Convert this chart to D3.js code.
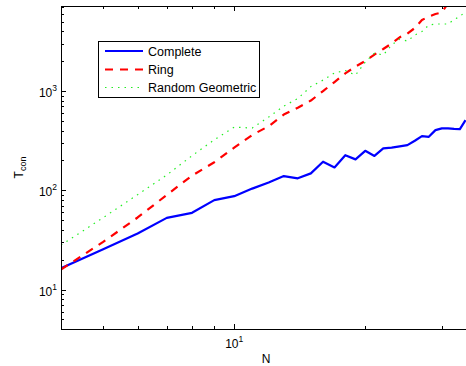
<!DOCTYPE html>
<html>
<head>
<meta charset="utf-8">
<script src="https://cdn.jsdelivr.net/npm/d3@7"></script>
<style>
  html, body { margin: 0; padding: 0; background: #fff; }
  svg { display: block; }
  text { font-family: "Liberation Sans", Arial, Helvetica, sans-serif; fill: #000; }
</style>
</head>
<body>
<svg id="chart" width="466" height="366"></svg>
<script>
// ---- data ----
const nComplete = [4,5,6,7,8,9,10,11,12,13,14,15,16,17,18,19,20,21,22,23,24,25,26,27,28,29,30,31,32,33,34];
const complete  = [16.4,25.5,36.7,52.7,59.3,79.6,87.3,104,120,139,132,148,194,170,226,205,250,222,264,269,277,285,316,352,346,404,421,420,415,413,510];
const nRing     = [4,5,6,7,8,9,10,11,12,13,14,15,16,17,18,19,20,21,22,23,24,25,26,27,28,29,30,31];
const ring      = [15.9,30.2,53.2,89.8,140.5,191.8,269,361,442,580,680,802,1000,1233,1509,1766,2008,2334,2652,3015,3481,3802,4319,5200,5640,5980,6190,7700];
const nRandom   = [4,5,6,7,8,9,10,11,12,13,14,15,16,17,18,19,20,21,22,23,24,25,26,27,28,29,30,31,32,33,34];
const randomGeo = [28.0,53.0,90.4,142.6,223,323,433,424,547,706,840,1110,1290,1520,1611,1449,1958,2415,2305,2910,3345,3190,3670,3985,4630,4740,4740,4740,5260,5640,6340];
const seriesNames = ["Complete", "Ring", "Random Geometric"];
const xDomain = [4, 35];
const yDomain = [4, 7200];
const xMajor = [10];
const xMinor = [5,6,7,8,9,20,30];
const yMajor = [10, 100, 1000];
const yMinor = [5,6,7,8,9,20,30,40,50,60,70,80,90,200,300,400,500,600,700,800,900,2000,3000,4000,5000,6000,7000];
const xLabel = "N";

// ---- layout ----
const L = 61, R = 471, T = 6, B = 329;
const svg = d3.select("#chart");
const x = d3.scaleLog().domain(xDomain).range([L, R]);
const y = d3.scaleLog().domain(yDomain).range([B, T]);

svg.append("defs").append("clipPath").attr("id", "plotclip")
  .append("rect").attr("x", L).attr("y", T).attr("width", R - L).attr("height", B - T);

// series
const styles = [
  {color: "#0000ff", width: 2.2, dash: null},
  {color: "#ff0000", width: 2.2, dash: "8,7"},
  {color: "#22ee22", width: 1.2, dash: "1.5,5"}
];
const data = [
  d3.zip(nComplete, complete),
  d3.zip(nRing, ring),
  d3.zip(nRandom, randomGeo)
];
const line = d3.line().x(d => x(d[0])).y(d => y(d[1]));
const g = svg.append("g").attr("clip-path", "url(#plotclip)");
data.forEach((d, i) => {
  g.append("path").datum(d).attr("d", line)
    .attr("fill", "none").attr("stroke", styles[i].color)
    .attr("stroke-width", styles[i].width)
    .attr("stroke-dasharray", styles[i].dash)
    .attr("stroke-linejoin", "round");
});

// axes frame
const ax = svg.append("g").attr("stroke", "#000").attr("stroke-width", 1).attr("fill", "none")
  .attr("shape-rendering", "crispEdges");
ax.append("line").attr("x1", L).attr("x2", R).attr("y1", B).attr("y2", B);
ax.append("line").attr("x1", L).attr("x2", R).attr("y1", T).attr("y2", T);
ax.append("line").attr("x1", L).attr("x2", L).attr("y1", T).attr("y2", B);
ax.append("line").attr("x1", R).attr("x2", R).attr("y1", T).attr("y2", B);

// ticks (inside)
const maj = 5, mnr = 3;
function xt(v, len) {
  const px = Math.round(x(v)) + 0.5;
  ax.append("line").attr("x1", px).attr("x2", px).attr("y1", B).attr("y2", B - len);
  ax.append("line").attr("x1", px).attr("x2", px).attr("y1", T).attr("y2", T + len);
}
function yt(v, len) {
  const py = Math.round(y(v)) + 0.5;
  ax.append("line").attr("x1", L).attr("x2", L + len).attr("y1", py).attr("y2", py);
  ax.append("line").attr("x1", R).attr("x2", R - len).attr("y1", py).attr("y2", py);
}
xMajor.forEach(v => xt(v, maj));
xMinor.forEach(v => xt(v, mnr));
yMajor.forEach(v => yt(v, maj));
yMinor.forEach(v => yt(v, mnr));

// tick labels
xMajor.forEach(v => {
  const t = svg.append("text").attr("x", x(v)).attr("y", B + 19)
    .attr("text-anchor", "middle").attr("font-size", 12);
  t.append("tspan").text("10");
  t.append("tspan").attr("dy", -6).attr("font-size", 8.5).text(Math.round(Math.log10(v)));
});
yMajor.forEach(v => {
  const t = svg.append("text").attr("x", L - 4).attr("y", y(v) + 6)
    .attr("text-anchor", "end").attr("font-size", 12);
  t.append("tspan").text("10");
  t.append("tspan").attr("dy", -6).attr("font-size", 8.5).text(Math.round(Math.log10(v)));
});

// axis labels
svg.append("text").attr("x", (L + R) / 2).attr("y", 363)
  .attr("text-anchor", "middle").attr("font-size", 12).text(xLabel);
const yl = svg.append("text").attr("transform", `translate(23,${(T + B) / 2}) rotate(-90)`)
  .attr("text-anchor", "middle").attr("font-size", 12);
yl.append("tspan").text("T");
yl.append("tspan").attr("dy", 3).attr("font-size", 9).text("con");

// legend
const lg = svg.append("g");
lg.append("rect").attr("x", 98.5).attr("y", 41.5).attr("width", 161).attr("height", 56)
  .attr("fill", "#fff").attr("stroke", "#000").attr("stroke-width", 1);
const rows = [51, 69.5, 87.5];
seriesNames.forEach((name, i) => {
  lg.append("line").attr("x1", 105).attr("x2", 143).attr("y1", rows[i]).attr("y2", rows[i])
    .attr("stroke", styles[i].color).attr("stroke-width", styles[i].width)
    .attr("stroke-dasharray", styles[i].dash);
  lg.append("text").attr("x", 148).attr("y", rows[i] + 4.5).attr("font-size", 12.5).text(name);
});
</script>
</body>
</html>
